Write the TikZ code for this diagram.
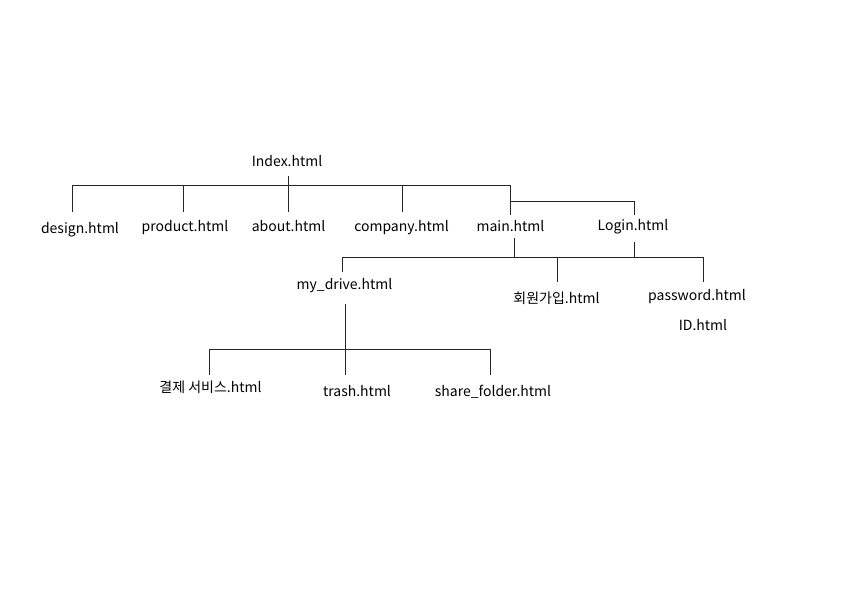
\documentclass[tikz,border=0pt]{standalone}
\usepackage{fontspec}
\setmainfont{Noto Sans CJK KR}
\begin{document}
\begin{tikzpicture}[x=1pt,y=-1pt,font=\fontsize{14}{16}\selectfont,
    page/.style={inner sep=1pt},
    link/.style={line width=1pt,black!85}]
    \useasboundingbox (0,0) rectangle (842,595);
    % pages
    \node[page] (index) at (287,161) {Index.html};
    \node[page] (design) at (80,230) {design.html};
    \node[page] (product) at (185,228) {product.html};
    \node[page] (about) at (288.5,226.5) {about.html};
    \node[page] (company) at (401.5,228) {company.html};
    \node[page] (mainp) at (510.5,226.5) {main.html};
    \node[page] (login) at (633,227) {Login.html};
    \node[page] (mydrive) at (344.5,286) {my\_drive.html};
    \node[page] (join) at (556.5,298.5) {회원가입.html};
    \node[page] (password) at (697,297) {password.html};
    \node[page] (id) at (703,325) {ID.html};
    \node[page] (payment) at (210.5,387) {결제 서비스.html};
    \node[page] (trash) at (357,391) {trash.html};
    \node[page] (share) at (493,391.5) {share\_folder.html};
    % junctions
    \coordinate (top-w) at (72,185);
    \coordinate (top-e) at (510,185);
    \coordinate (top-i) at (288,176);
    \coordinate (top-p) at (183,185);
    \coordinate (top-c) at (402,185);
    \coordinate (log-w) at (510,201);
    \coordinate (log-e) at (634,201);
    \coordinate (mid-w) at (342,257);
    \coordinate (mid-e) at (703,257);
    \coordinate (mid-j) at (557,257);
    \coordinate (mid-m) at (514.5,238);
    \coordinate (mid-l) at (634,242);
    \coordinate (low-w) at (209,349);
    \coordinate (low-e) at (490,349);
    \coordinate (low-d) at (345.5,304);
    \coordinate (tick1) at (0,212);
    \coordinate (tick2) at (0,215);
    \coordinate (tick3) at (0,272);
    \coordinate (tick4) at (0,282);
    \coordinate (tick5) at (0,375);
    % first level
    \draw[link] (top-w) -- (top-e);
    \draw[link] (top-w) -- (top-w |- tick1);
    \draw[link] (top-p) -- (top-p |- tick1);
    \draw[link] (top-i) -- (top-i |- tick1);
    \draw[link] (top-c) -- (top-c |- tick1);
    \draw[link] (top-e) -- (top-e |- tick2);
    \draw[link] (log-w) -- (log-e) -- (log-e |- tick2);
    % second level
    \draw[link] (mid-m) -- (mid-m |- mid-w);
    \draw[link] (mid-l) -- (mid-l |- mid-w);
    \draw[link] (mid-w) -- (mid-e);
    \draw[link] (mid-w) -- (mid-w |- tick3);
    \draw[link] (mid-j) -- (mid-j |- tick4);
    \draw[link] (mid-e) -- (mid-e |- tick4);
    % third level
    \draw[link] (low-d) -- (low-d |- tick5);
    \draw[link] (low-w) -- (low-e);
    \draw[link] (low-w) -- (low-w |- tick5);
    \draw[link] (low-e) -- (low-e |- tick5);
\end{tikzpicture}
\end{document}
